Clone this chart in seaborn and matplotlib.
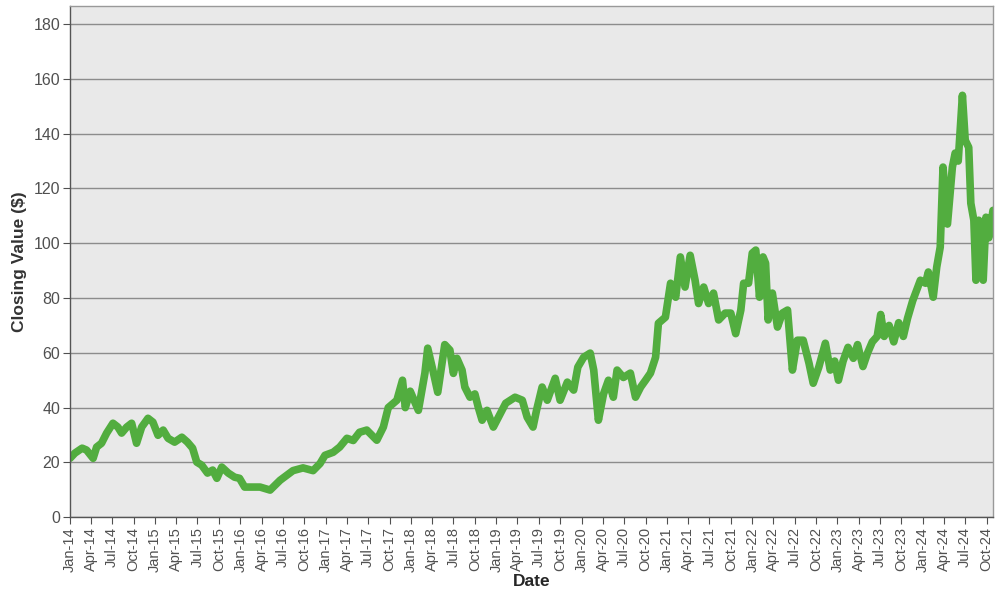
import pandas as pd
import seaborn as sns
import matplotlib
matplotlib.use('Agg')
import matplotlib.pyplot as plt
import matplotlib.dates as mdates

# closing values
dates = [
    '2014-01-01', '2014-01-22', '2014-02-22', '2014-03-13', '2014-04-10', '2014-04-25',
    '2014-05-16', '2014-06-07', '2014-07-04', '2014-07-25', '2014-08-10', '2014-09-01',
    '2014-09-22', '2014-10-13', '2014-11-04', '2014-12-01', '2014-12-22', '2015-01-13',
    '2015-02-04', '2015-02-25', '2015-03-25', '2015-04-25', '2015-05-19', '2015-06-10',
    '2015-06-28', '2015-07-19', '2015-08-13', '2015-09-04', '2015-09-22', '2015-10-13',
    '2015-11-10', '2015-12-07', '2015-12-28', '2016-01-19', '2016-02-19', '2016-03-25',
    '2016-05-07', '2016-06-19', '2016-08-13', '2016-09-25', '2016-11-07', '2016-12-07',
    '2016-12-28', '2017-02-01', '2017-03-01', '2017-04-01', '2017-04-28', '2017-05-25',
    '2017-06-25', '2017-08-07', '2017-09-04', '2017-09-25', '2017-11-01', '2017-11-25',
    '2017-12-07', '2017-12-28', '2018-02-01', '2018-03-01', '2018-03-13', '2018-04-04',
    '2018-04-25', '2018-05-25', '2018-06-16', '2018-07-01', '2018-07-16', '2018-08-07',
    '2018-08-19', '2018-09-10', '2018-10-01', '2018-10-16', '2018-11-01', '2018-11-22',
    '2018-12-19', '2019-01-10', '2019-02-10', '2019-03-22', '2019-04-22', '2019-05-13',
    '2019-06-07', '2019-06-22', '2019-07-16', '2019-08-07', '2019-09-10', '2019-10-01',
    '2019-11-01', '2019-11-28', '2019-12-16', '2020-01-10', '2020-02-07', '2020-02-22',
    '2020-03-13', '2020-04-04', '2020-04-25', '2020-05-16', '2020-06-01', '2020-06-28',
    '2020-07-28', '2020-08-19', '2020-09-10', '2020-10-01', '2020-10-22', '2020-11-13',
    '2020-11-25', '2020-12-25', '2021-01-16', '2021-02-07', '2021-02-27', '2021-03-19',
    '2021-04-10', '2021-05-01', '2021-05-16', '2021-06-07', '2021-06-28', '2021-07-19',
    '2021-08-10', '2021-09-07', '2021-10-01', '2021-10-22', '2021-11-13', '2021-11-25',
    '2021-12-16', '2022-01-01', '2022-01-16', '2022-02-01', '2022-02-16', '2022-02-27',
    '2022-03-10', '2022-03-28', '2022-04-19', '2022-05-10', '2022-06-01', '2022-06-22',
    '2022-07-13', '2022-08-07', '2022-09-01', '2022-09-19', '2022-10-13', '2022-11-10',
    '2022-12-01', '2022-12-20', '2023-01-05', '2023-01-25', '2023-02-15', '2023-03-10',
    '2023-03-28', '2023-04-20', '2023-05-10', '2023-05-30', '2023-06-20', '2023-07-05',
    '2023-07-20', '2023-08-10', '2023-08-30', '2023-09-20', '2023-10-10', '2023-10-28',
    '2023-11-19', '2023-12-22', '2024-01-13', '2024-01-25', '2024-02-15', '2024-03-01',
    '2024-03-16', '2024-03-28', '2024-04-16', '2024-05-07', '2024-05-19', '2024-06-01',
    '2024-06-19', '2024-07-01', '2024-07-16', '2024-07-25', '2024-08-07', '2024-08-16',
    '2024-08-28', '2024-09-16', '2024-09-28', '2024-10-10', '2024-10-28',
]
closing = [
    21.5, 23.4, 25.2, 24.5, 21.5, 25.6,
    27.0, 30.7, 34.3, 32.9, 30.7, 32.9,
    34.3, 27.0, 32.9, 36.1, 34.7, 29.9,
    31.8, 28.8, 27.4, 29.2, 27.4, 25.2,
    20.1, 19.0, 16.1, 17.2, 14.2, 18.3,
    16.1, 14.6, 14.2, 11.0, 11.0, 11.0,
    9.9, 13.5, 17.0, 18.0, 17.0, 19.6,
    22.6, 23.7, 25.6, 28.8, 28.0, 31.0,
    31.8, 28.1, 32.9, 40.0, 42.7, 50.0,
    40.0, 46.0, 39.0, 52.6, 61.7, 53.7,
    45.6, 63.0, 61.0, 52.5, 58.0, 53.7,
    47.5, 43.8, 45.0, 40.0, 35.4, 39.0,
    32.9, 36.5, 41.6, 43.8, 42.7, 36.5,
    32.9, 39.0, 47.5, 42.7, 50.7, 42.7,
    49.3, 46.4, 54.8, 58.4, 59.9, 53.7,
    35.4, 45.0, 50.0, 43.8, 53.7, 51.0,
    52.6, 43.8, 47.5, 50.0, 52.6, 58.4,
    70.8, 73.0, 85.4, 80.3, 95.0, 84.0,
    95.6, 86.5, 78.0, 84.0, 78.0, 81.8,
    72.0, 74.5, 74.5, 67.0, 75.6, 85.4,
    85.4, 96.4, 97.5, 80.3, 95.0, 92.7,
    72.0, 81.8, 69.4, 74.5, 75.6, 53.7,
    64.6, 64.6, 56.2, 48.9, 54.8, 63.5,
    53.7, 57.0, 50.0, 57.0, 62.0, 58.0,
    63.0, 55.0, 60.0, 64.0, 66.0, 74.0,
    66.0, 70.0, 64.0, 71.0, 66.0, 72.6,
    79.0, 86.5, 85.4, 89.5, 80.3, 91.3,
    98.6, 127.8, 107.0, 127.8, 132.9, 130.0,
    154.0, 137.6, 135.0, 114.6, 108.4, 86.5,
    108.4, 86.5, 109.5, 102.0, 112.0,
]

df = pd.DataFrame({'Date': pd.to_datetime(dates), 'Close': closing})

sns.set_style('whitegrid', {
    'axes.facecolor': '#e9e9e9',
    'axes.edgecolor': '#555555',
    'grid.color': '#8c8c8c',
    'xtick.bottom': True,
    'ytick.left': True,
})
plt.rcParams['font.family'] = ['Liberation Sans', 'DejaVu Sans']

fig = plt.figure(figsize=(10, 6), dpi=100)
ax = fig.add_axes([0.07, 0.138, 0.923, 0.852])

sns.lineplot(data=df, x='Date', y='Close', ax=ax, color='#52ad3f', linewidth=5.5)

ax.set_xlim(df['Date'].iloc[0], df['Date'].iloc[-1])
ax.set_ylim(0, 186.6)
ax.set_yticks(range(0, 181, 20))
ax.xaxis.set_major_locator(mdates.MonthLocator(bymonth=[1, 4, 7, 10]))
ax.xaxis.set_major_formatter(mdates.DateFormatter('%b-%y'))
ax.grid(axis='x', visible=False)
ax.grid(axis='y', linewidth=1)

ax.tick_params(axis='x', rotation=90, labelsize=10.5, colors='#505050', length=5, pad=2)
ax.tick_params(axis='y', labelsize=11.5, colors='#505050', length=5, pad=2)
for s in ax.spines.values():
    s.set_linewidth(1)
ax.spines['top'].set_color('#999999')
ax.spines['right'].set_color('#999999')

ax.set_xlabel('Date', fontsize=12.5, fontweight='bold', labelpad=2)
ax.set_ylabel('Closing Value ($)', fontsize=12.5, fontweight='bold', color='#333333', labelpad=5)

plt.savefig('out.png')
plt.close()
